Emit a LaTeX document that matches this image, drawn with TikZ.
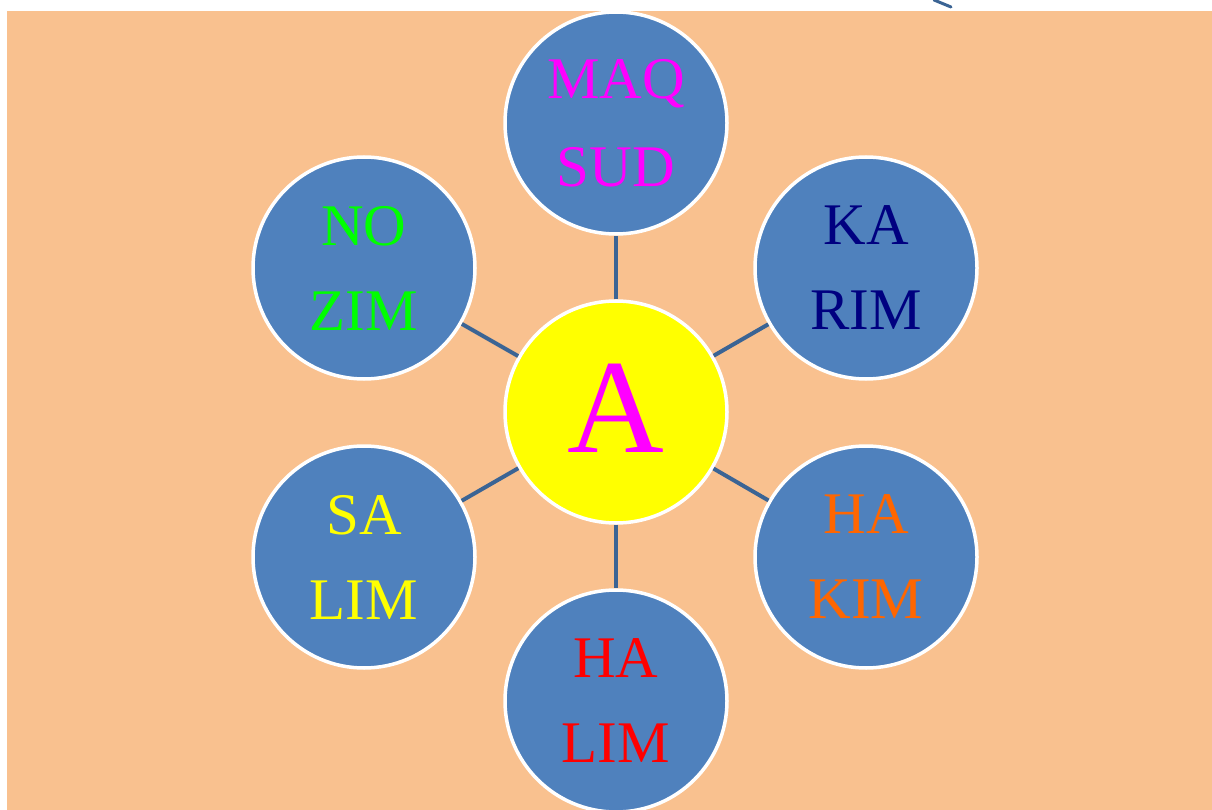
\documentclass[tikz,border=0pt]{standalone}
\usepackage{fontspec}
\setmainfont{Liberation Serif}
\begin{document}
\begin{tikzpicture}[x=1pt,y=-1pt,
  bubble/.style={circle,draw=white,line width=3.5pt,fill=cblue,minimum size=222pt,inner sep=0pt,align=center,font=\fontsize{59}{85}\selectfont},
  link/.style={draw=clink,line width=4pt}]
\definecolor{peach}{HTML}{F9C18F}
\definecolor{cblue}{HTML}{4F81BD}
\definecolor{clink}{HTML}{3B6494}
\definecolor{corange}{HTML}{FF6600}
\definecolor{cnavy}{HTML}{000080}
\definecolor{cmag}{HTML}{FF00FF}
\definecolor{cyel}{HTML}{FFFF00}
\definecolor{cgreen}{HTML}{00FF00}
\definecolor{cred}{HTML}{FF0000}
\useasboundingbox (0,0) rectangle (1212,810);
\fill[white] (0,0) rectangle (1212,810);
\fill[peach] (7,11) rectangle (1212,810);
\draw[clink,line width=3pt,line cap=round] (934,0) -- (951,7);
\node[bubble,text=cmag] (maq) at (616,123) {\raisebox{3pt}{MAQ}\\SUD};
\node[bubble,text=cgreen] (nozim) at (364,268) {NO\\ZIM};
\node[bubble,text=cnavy] (karim) at (866,268) {KA\\RIM};
\node[bubble,text=cyel] (salim) at (364,557) {SA\\LIM};
\node[bubble,text=corange] (hakim) at (866,557) {HA\\KIM};
\node[bubble,text=cred] (halim) at (616,701) {HA\\LIM};
\node[circle,draw=white,line width=3.5pt,fill=cyel,minimum size=222pt,inner sep=0pt,text=cmag,font=\fontsize{134}{134}\selectfont] (a) at (616,412) {\raisebox{8pt}{A}};
\foreach \n in {maq,nozim,karim,salim,hakim,halim}
  \draw[link] (a) -- (\n);
\end{tikzpicture}
\end{document}
